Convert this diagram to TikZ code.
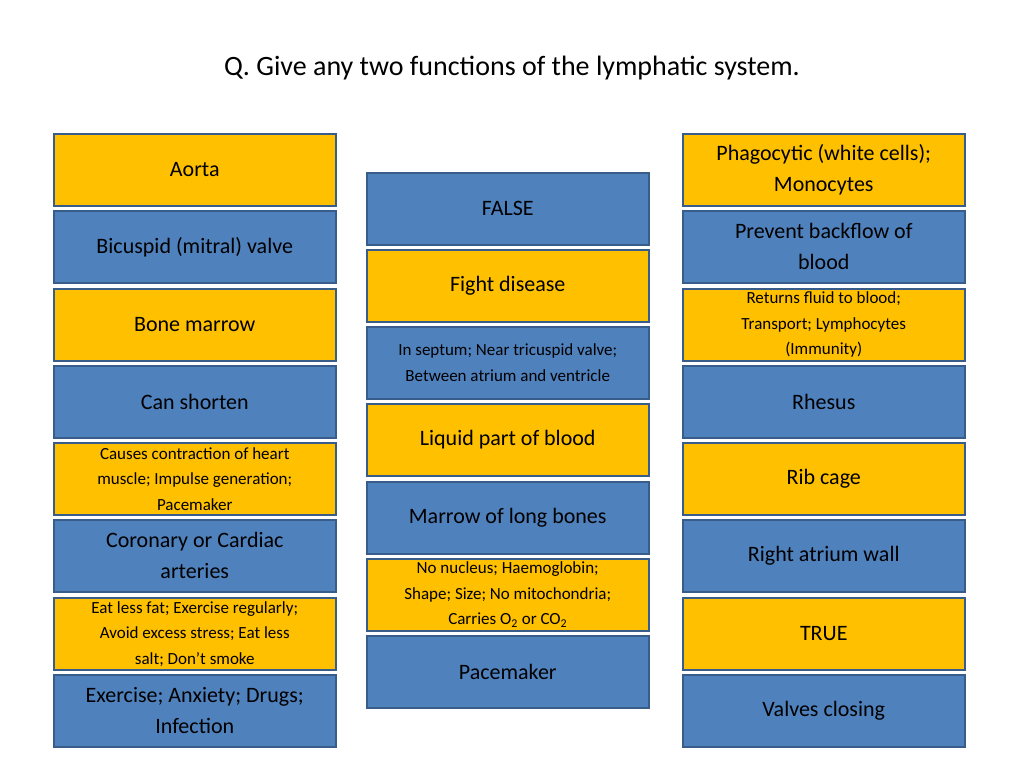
\documentclass[tikz,border=0pt]{standalone}
\usepackage{fontspec}
\setmainfont{Carlito}
\definecolor{orng}{HTML}{FFC000}
\definecolor{blu}{HTML}{4F81BD}
\definecolor{brd}{HTML}{385D8A}
\begin{document}
\begin{tikzpicture}[x=1pt,y=-1pt,
  box/.style={draw=brd,line width=1.5pt,minimum width=282pt,minimum height=72pt,anchor=north west,align=center,inner sep=0pt,font=\fontsize{22}{31}\selectfont},
  O/.style={box,fill=orng},
  B/.style={box,fill=blu},
  sm/.style={font=\fontsize{17}{25.5}\selectfont}]
\useasboundingbox (0,0) rectangle (1024,768);
\node[font=\fontsize{28}{34}\selectfont] (t) at (512,68) {Q. Give any two functions of the lymphatic system.};
% left
\node[O] (l1) at (53,133) {Aorta};
\node[B] (l2) at (53,210) {Bicuspid (mitral) valve};
\node[O] (l3) at (53,288) {Bone marrow};
\node[B] (l4) at (53,365) {Can shorten};
\node[O,sm] (l5) at (53,442) {Causes contraction of heart\\muscle; Impulse generation;\\Pacemaker};
\node[B] (l6) at (53,519) {Coronary or Cardiac\\arteries};
\node[O,sm] (l7) at (53,597) {Eat less fat; Exercise regularly;\\Avoid excess stress; Eat less\\salt; Don’t smoke};
\node[B] (l8) at (53,674) {Exercise; Anxiety; Drugs;\\Infection};
% middle
\node[B] (m1) at (366,172) {FALSE};
\node[O] (m2) at (366,249) {Fight disease};
\node[B,sm] (m3) at (366,326) {In septum; Near tricuspid valve;\\Between atrium and ventricle};
\node[O] (m4) at (366,403) {Liquid part of blood};
\node[B] (m5) at (366,481) {Marrow of long bones};
\node[O,sm] (m6) at (366,558) {No nucleus; Haemoglobin;\\Shape; Size; No mitochondria;\\Carries O\textsubscript{2} or CO\textsubscript{2}};
\node[B] (m7) at (366,635) {Pacemaker};
% right
\node[O] (r1) at (682,133) {Phagocytic (white cells);\\Monocytes};
\node[B] (r2) at (682,210) {Prevent backflow of\\blood};
\node[O,sm] (r3) at (682,288) {Returns fluid to blood;\\Transport; Lymphocytes\\(Immunity)};
\node[B] (r4) at (682,365) {Rhesus};
\node[O] (r5) at (682,442) {Rib cage};
\node[B] (r6) at (682,519) {Right atrium wall};
\node[O] (r7) at (682,597) {TRUE};
\node[B] (r8) at (682,674) {Valves closing};
\end{tikzpicture}
\end{document}
